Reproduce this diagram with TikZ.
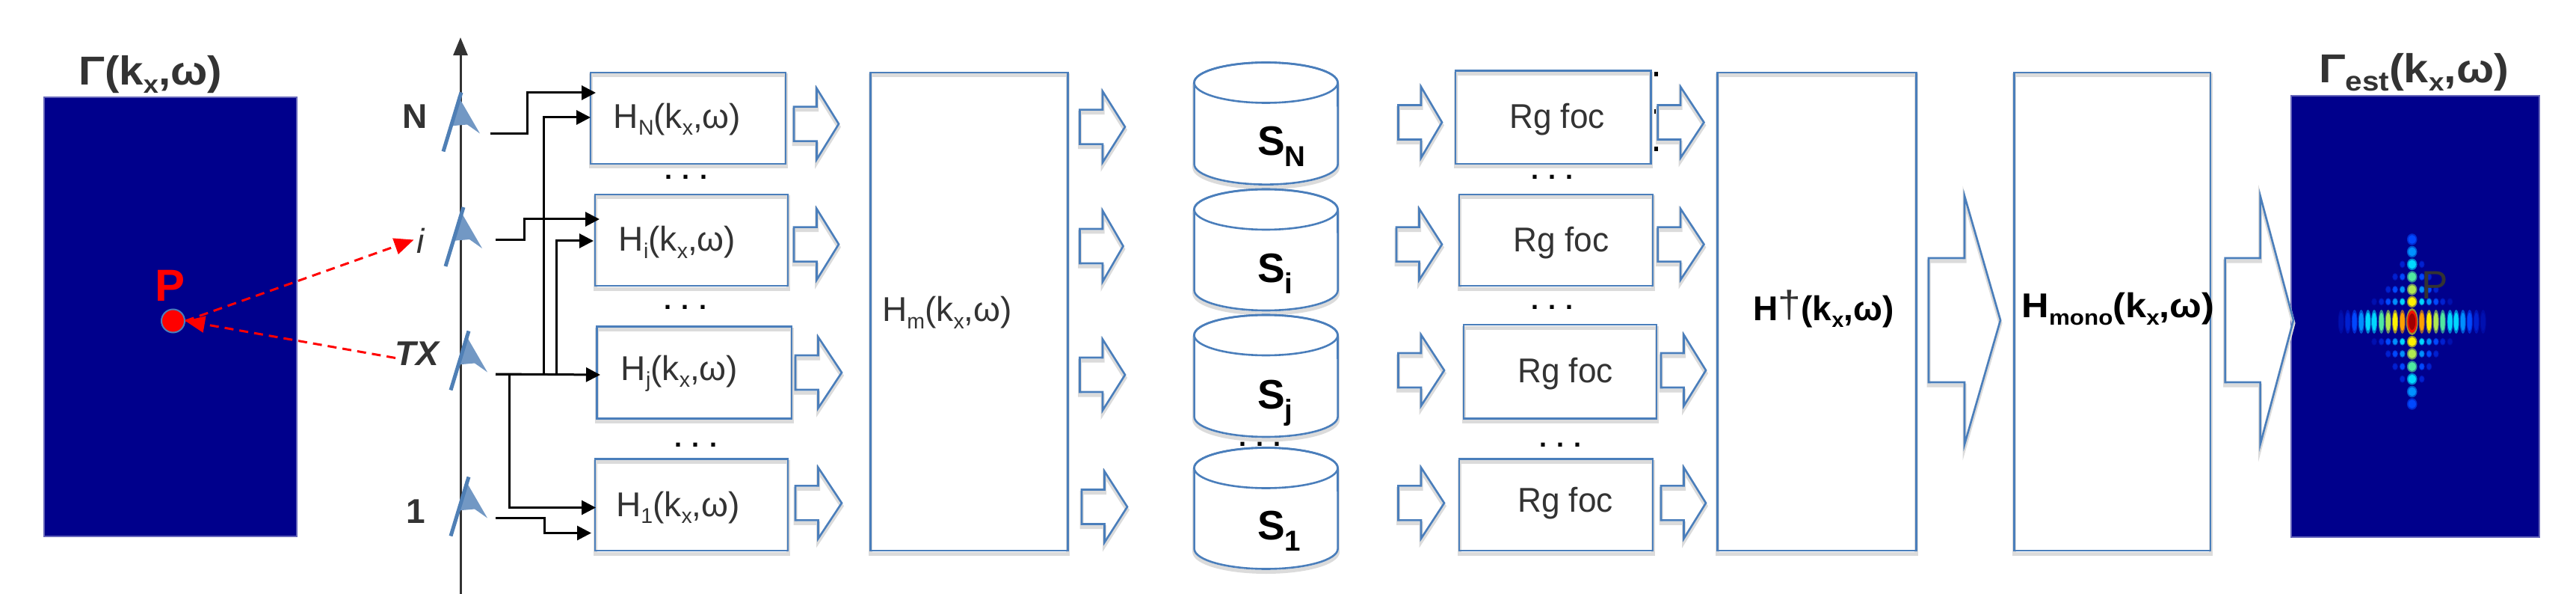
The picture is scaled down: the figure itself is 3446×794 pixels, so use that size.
\documentclass[tikz,border=0pt]{standalone}
\usepackage{fontspec}
\setmainfont{Liberation Sans}
\usetikzlibrary{arrows.meta,calc}
\definecolor{edge}{HTML}{4A7EBB}
\definecolor{antc}{HTML}{4F7FB5}
\definecolor{bgnavy}{HTML}{00008C}
\definecolor{ink}{HTML}{333333}
\definecolor{jy}{HTML}{FFF000}
\definecolor{jyg}{HTML}{B0E850}
\definecolor{jg}{HTML}{50E8A0}
\definecolor{jc}{HTML}{00D8FF}
\definecolor{jl}{HTML}{0090FF}
\definecolor{jb}{HTML}{0048FF}
\definecolor{jd}{HTML}{0020D0}
\definecolor{je}{HTML}{0010B0}
\definecolor{jo}{HTML}{FFA000}
\definecolor{jr}{HTML}{F01000}
\definecolor{jm}{HTML}{A00000}
\newcommand\sbs[1]{\raisebox{-.2em}{\scalebox{.62}{#1}}}
\newcommand\sfont{\fontsize{46}{50}\selectfont}
\newcommand\tfont{\fontsize{54}{58}\selectfont\bfseries}
\newcommand\Sfont{\fontsize{55}{58}\selectfont\bfseries}
\newcommand\dfont{\fontsize{36}{40}\selectfont\bfseries}
\newcommand\blockarrow[6]{% x0, base, tip, cy, halfshaft, halfhead
  \draw[barrow] (#1,#4-#5) -- (#2,#4-#5) -- (#2,#4-#6) -- (#3,#4) -- (#2,#4+#6) -- (#2,#4+#5) -- (#1,#4+#5) -- cycle;}
\newcommand\barr[3]{\blockarrow{#1}{#1+30.5}{#2}{#3}{23}{47.5}}
\newcommand\cyl[3]{% name, top, bottom
  \draw[cylin] (1597.6,#2+27) -- (1597.6,#3-27) arc[start angle=180,end angle=360,x radius=96pt,y radius=27pt] -- (1789.5,#2+27) arc[start angle=0,end angle=180,x radius=96pt,y radius=27pt] -- cycle;
  \draw[edge,line width=2.6pt] (1693.5,#2+27) ellipse[x radius=96pt,y radius=27pt];
  \coordinate (#1) at (1693.5,#3);}
\newcommand\ant[3]{% name, x, y of foot
  \begin{scope}[shift={(#2,#3)}]
    \fill[antc!80] (20,-74) -- (49,-24) -- (32,-36) -- (9,-34) -- cycle;
    \draw[antc,line width=5pt] (0,0) -- (24,-79);
    \coordinate (#1) at (24,-40);
  \end{scope}}
\newcommand\spot[5]{%
  \fill[#3!60!bgnavy] (#1,#2) ellipse[x radius=#4 pt,y radius=#5 pt];
  \fill[#3] (#1,#2) ellipse[x radius=.75*#4 pt,y radius=.75*#5 pt];}
\tikzset{
  x=1pt,y=-1pt,
  softshadow/.style={preaction={draw=black!14,line width=5pt,transform canvas={yshift=-4pt}}},
  box/.style={draw=edge,line width=2.8pt,rectangle,inner sep=0pt,outer sep=0pt,softshadow,align=center,text=ink,font=\sfont},
  barrow/.style={draw=edge,line width=2.6pt,line join=miter,softshadow},
  cylin/.style={draw=edge,fill=white,line width=2.6pt,preaction={draw=black!14,line width=5pt,transform canvas={yshift=-4pt}}},
  conn/.style={draw=black,line width=3pt,-{Triangle[length=19pt,width=19pt]}},
  rayline/.style={draw=red,line width=3pt,dash pattern=on 12pt off 8pt,-{Triangle[length=26pt,width=22pt]}},
  dotrow/.style={font=\dfont,text=black,inner sep=0pt},
  lab/.style={inner sep=0pt,text=ink},
}
\begin{document}
\begin{tikzpicture}
\useasboundingbox (0,0) rectangle (3446,794);
\fill[white] (0,0) rectangle (3446,794);

% left image
\node[draw=bgnavy!60!white,line width=2pt,fill=bgnavy,minimum width=338pt,minimum height=587pt,inner sep=0pt,outer sep=0pt] (imgL) at (228,423.5) {};
\node[anchor=base,inner sep=0pt,text=ink,font=\tfont] (titleL) at (201,114) {\scalebox{1.08}[1]{Γ(k\sbs{x},ω)}};
\node[text=red,font=\fontsize{60}{60}\selectfont\bfseries,inner sep=0pt] (labP) at (228,382) {P};
\node[circle,draw=edge,fill=red,line width=2pt,minimum size=31pt,inner sep=0pt] (dotP) at (231.5,429) {};

% array axis
\coordinate (axB) at (616,794);
\coordinate (axT) at (616,50);
\draw[draw=ink,line width=3pt,-{Triangle[length=24pt,width=19pt]}] (axB) -- (axT);
\ant{antN}{593}{202.5}
\ant{antI}{596}{356}
\ant{antT}{603}{521.5}
\ant{antO}{603}{716.5}
\node[lab,font=\fontsize{46}{50}\selectfont\bfseries] (labN) at (555,156) {N};
\node[lab,font=\fontsize{46}{50}\selectfont\itshape] (labI) at (562.5,321.5) {i};
\node[lab,font=\fontsize{46}{50}\selectfont\itshape\bfseries] (labTX) at (558,473) {TX};
\node[lab,font=\fontsize{46}{50}\selectfont\bfseries] (labO) at (556,683.5) {1};

% red rays
\coordinate (rayI) at (553.5,320.5);
\coordinate (rayT) at (529,478.5);
\draw[rayline] (dotP.east) -- (rayI);
\draw[rayline] (rayT) -- (dotP.east);

% H boxes
\node[box,minimum width=261pt,minimum height=122pt] (HN) at (920.5,158) {};
\node[box,minimum width=258pt,minimum height=122pt] (Hi) at (925,321) {};
\node[box,minimum width=260.5pt,minimum height=123pt] (Hj) at (928.75,498) {};
\node[box,minimum width=258pt,minimum height=122.5pt] (H1) at (925,674.75) {};
\node[lab,font=\sfont] (tHN) at (906,159.5) {H\sbs{N}(k\sbs{x},ω)};
\node[lab,font=\sfont] (tHi) at (906,324) {H\sbs{i}(k\sbs{x},ω)};
\node[lab,font=\sfont] (tHj) at (909,499) {H\sbs{j}(k\sbs{x},ω)};
\node[lab,font=\sfont] (tH1) at (907,678.5) {H\sbs{1}(k\sbs{x},ω)};
\node[dotrow] (d1) at (918,237) {. . .};
\node[dotrow] (d2) at (917,411) {. . .};
\node[dotrow] (d3) at (931,595) {. . .};

% connectors
\coordinate (aN) at (656,179);
\coordinate (aI) at (663,321);
\coordinate (aT) at (663,500);
\coordinate (aO) at (663,692);
\coordinate (pN1) at (797,124);
\coordinate (pN2) at (790,157);
\coordinate (pI1) at (802,293);
\coordinate (pI2) at (794,322);
\coordinate (pJ) at (803,501);
\coordinate (pO1) at (797,678.5);
\coordinate (pO2) at (791,712.5);
\draw[conn] (aN) -- ++(49,0) |- (pN1);
\draw[conn] (aI) -- ++(38.5,0) |- (pI1);
\draw[conn] (aT) -- ++(64,0) |- (pN2);
\draw[conn] (aT) -- ++(81,0) |- (pI2);
\draw[conn] (aT) -- (pJ);
\draw[conn] (aT) -- ++(18,0) |- (pO1);
\draw[conn] (aO) -- ++(65,0) |- (pO2);

% block arrows col 1
\barr{1062}{1122}{165.6}
\barr{1062}{1122}{326.6}
\barr{1064}{1126}{498}
\barr{1064}{1126}{672.4}
% H_m
\node[box,minimum width=264pt,minimum height=639pt] (Hm) at (1296.5,416.5) {};
\node[lab,font=\sfont] (tHm) at (1267,418) {H\sbs{m}(k\sbs{x},ω)};
% col 2
\barr{1444.5}{1505}{169.6}
\barr{1444.5}{1502.5}{329}
\barr{1444.5}{1505}{501}
\barr{1447}{1508}{677.5}

% cylinders
\cyl{cN}{83.5}{246.6}
\cyl{cI}{253}{415}
\cyl{cJ}{421}{584}
\node[dotrow] (d4) at (1685.6,594) {. . .};
\cyl{cO}{598.5}{760.5}
\node[inner sep=0pt,anchor=base west,text=black,font=\Sfont] (sN) at (1682,207.6) {S\raisebox{-.28em}{\scalebox{.7}{N}}};
\node[inner sep=0pt,anchor=base west,text=black,font=\Sfont] (sI) at (1682,377) {S\raisebox{-.28em}{\scalebox{.7}{i}}};
\node[inner sep=0pt,anchor=base west,text=black,font=\Sfont] (sJ) at (1682,546) {S\raisebox{-.28em}{\scalebox{.7}{j}}};
\node[inner sep=0pt,anchor=base west,text=black,font=\Sfont] (sO) at (1682,721.5) {S\raisebox{-.28em}{\scalebox{.7}{1}}};

% col 3
\barr{1870.5}{1929}{163.5}
\barr{1868}{1929}{326.6}
\barr{1870.5}{1932}{495}
\barr{1870.5}{1932}{672.4}

% Rg foc
\node[box,minimum width=261.4pt,minimum height=124.3pt] (R1) at (2077.7,156.85) {};
\node[box,minimum width=259pt,minimum height=122pt] (R2) at (2081.5,321) {};
\node[box,minimum width=258pt,minimum height=125.5pt] (R3) at (2087,496.75) {};
\node[box,minimum width=259pt,minimum height=122.5pt] (R4) at (2081.5,674.75) {};
\node[lab,font=\sfont] (tR1) at (2083,159.5) {\scalebox{.96}[1]{Rg foc}};
\node[lab,font=\sfont] (tR2) at (2088.5,325) {\scalebox{.96}[1]{Rg foc}};
\node[lab,font=\sfont] (tR3) at (2094,500) {\scalebox{.96}[1]{Rg foc}};
\node[lab,font=\sfont] (tR4) at (2094,673) {\scalebox{.96}[1]{Rg foc}};
\node[dotrow] (d5) at (2076.5,237) {. . .};
\node[dotrow] (d6) at (2076.5,411) {. . .};
\node[dotrow] (d7) at (2087.6,595) {. . .};
\fill[black] (2212.5,96) rectangle ++(5,6);
\fill[black] (2212.5,146) rectangle ++(5,6);
\fill[black] (2212.5,196) rectangle ++(5,6);

% col 4
\barr{2217.6}{2279.4}{163.5}
\barr{2217.6}{2279.4}{326.6}
\barr{2222}{2282}{495}
\barr{2222}{2282}{672.4}

% H dagger
\node[box,minimum width=265.5pt,minimum height=639pt] (Hp) at (2430.6,416.5) {};
\node[lab,text=black,font=\sfont\bfseries] (tHp) at (2439.5,413) {H{\normalfont\color{ink}\raisebox{.08em}{\scalebox{1.2}[1.1]{†}}}(k\sbs{x},ω)};
\blockarrow{2580}{2628}{2676}{428}{83}{166}
% H mono
\node[box,minimum width=262.6pt,minimum height=639pt] (Hmono) at (2825.7,416.5) {};
\node[lab,text=black,font=\sfont\bfseries] (tHmono) at (2833.5,413) {\scalebox{1.1}[1]{H\sbs{mono}(k\sbs{x},ω)}};

% right image
\node[draw=bgnavy!60!white,line width=2pt,fill=bgnavy,minimum width=332pt,minimum height=590pt,inner sep=0pt,outer sep=0pt] (imgR) at (3231,423) {};
\blockarrow{2976.6}{3023.6}{3068}{428}{83}{166}
\node[anchor=base,inner sep=0pt,text=ink,font=\tfont] (titleR) at (3229,111) {\scalebox{1.1}[1]{Γ\raisebox{-.2em}{\scalebox{.68}{est}}(k\sbs{x},ω)}};

% point spread
\foreach \dy/\c in {26.7/jy,43/jyg,60/jg,76.7/jc,93.5/jl,110/jb}{
  \spot{3226.7}{430+\dy}{\c}{6.8}{7.8}
  \spot{3226.7}{430-\dy}{\c}{6.8}{7.8}
}
\foreach \dx/\rows in {13/{26.7/jc,43/jl,60/jb,76.7/jd},22.7/{26.7/jl,43/jb,60/jd},32/{26.7/jb,43/jd},41/{26.7/jd},50.7/{26.7/je}}{
  \foreach \dy/\c in \rows {
    \spot{3226.7+\dx}{430+\dy}{\c}{3.8}{5}
    \spot{3226.7-\dx}{430+\dy}{\c}{3.8}{5}
    \spot{3226.7+\dx}{430-\dy}{\c}{3.8}{5}
    \spot{3226.7-\dx}{430-\dy}{\c}{3.8}{5}
  }
}
\foreach \dx/\c in {95/je,86/jd,77/jb,68/jl,59/jc,50.7/jc,41/jg,32/jyg,22.7/jy,13/jo}{
  \spot{3226.7+\dx}{430}{\c}{4}{16}
  \spot{3226.7-\dx}{430}{\c}{4}{16}
}
\spot{3226.7}{430}{jy}{8}{18}
\fill[jr] (3226.7,430) ellipse[x radius=6.5pt,y radius=15pt];
\fill[jm] (3226.7,430) ellipse[x radius=4.5pt,y radius=11pt];
\node[inner sep=0pt,text=ink,font=\fontsize{53}{55}\selectfont] (labP2) at (3256.7,381.7) {P};
\end{tikzpicture}
\end{document}
